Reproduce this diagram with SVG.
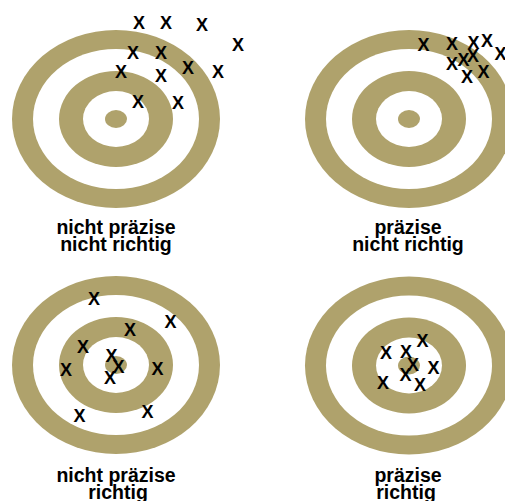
<svg xmlns="http://www.w3.org/2000/svg" width="505" height="501" viewBox="0 0 505 501">
<style>
.g{fill:#afa26c}
.w{fill:#ffffff}
.lbl{font-family:"Liberation Sans",Arial,sans-serif;font-weight:bold;font-size:19.5px;fill:#000;text-anchor:middle}
.x{font-family:"Liberation Sans",Arial,sans-serif;font-weight:bold;font-size:18px;fill:#000;text-anchor:middle}
</style>
<defs>
<g id="target">
<ellipse class="g" cx="0" cy="0" rx="104" ry="89"/>
<ellipse class="w" cx="0" cy="0" rx="83" ry="70"/>
<ellipse class="g" cx="0" cy="0" rx="57" ry="48"/>
<ellipse class="w" cx="0" cy="0" rx="33" ry="28"/>
<ellipse class="g" cx="0" cy="0" rx="11" ry="9"/>
</g>
</defs>
<rect width="505" height="501" fill="#ffffff"/>
<g id="target-tl">
<use href="#target" x="116" y="119"/>
<g class="marks">
<text class="x" x="139" y="28.5">X</text>
<text class="x" x="166" y="28.5">X</text>
<text class="x" x="202" y="30.5">X</text>
<text class="x" x="238" y="50.5">X</text>
<text class="x" x="133" y="58.5">X</text>
<text class="x" x="161" y="58.5">X</text>
<text class="x" x="121" y="78">X</text>
<text class="x" x="161" y="82">X</text>
<text class="x" x="188" y="74">X</text>
<text class="x" x="218" y="77.5">X</text>
<text class="x" x="138" y="107.5">X</text>
<text class="x" x="178" y="109">X</text>
</g>
<text class="lbl" x="116" y="234">nicht präzise</text>
<text class="lbl" x="116" y="251">nicht richtig</text>
</g>
<g id="target-tr">
<use href="#target" x="409" y="119"/>
<g class="marks">
<text class="x" x="423.5" y="50.5">X</text>
<text class="x" x="452" y="50">X</text>
<text class="x" x="473.5" y="48.5">X</text>
<text class="x" x="487" y="46.5">X</text>
<text class="x" x="500.5" y="59.5">X</text>
<text class="x" x="452" y="69.5">X</text>
<text class="x" x="463.5" y="66">X</text>
<text class="x" x="473" y="61.5">X</text>
<text class="x" x="467" y="82.5">X</text>
<text class="x" x="483.5" y="77.5">X</text>
</g>
<text class="lbl" x="408" y="234">präzise</text>
<text class="lbl" x="408" y="251">nicht richtig</text>
</g>
<g id="target-bl">
<use href="#target" x="116" y="365"/>
<g class="marks">
<text class="x" x="94" y="304.5">X</text>
<text class="x" x="170.5" y="328">X</text>
<text class="x" x="130" y="335.5">X</text>
<text class="x" x="83" y="352.5">X</text>
<text class="x" x="111.5" y="361.5">X</text>
<text class="x" x="118.5" y="373">X</text>
<text class="x" x="110" y="384">X</text>
<text class="x" x="66" y="376">X</text>
<text class="x" x="157.5" y="375">X</text>
<text class="x" x="79.5" y="421.5">X</text>
<text class="x" x="147.5" y="418">X</text>
</g>
<text class="lbl" x="116" y="482">nicht präzise</text>
<text class="lbl" x="118" y="498.5">richtig</text>
</g>
<g id="target-br">
<use href="#target" x="409" y="365.5"/>
<g class="marks">
<text class="x" x="422.5" y="346.5">X</text>
<text class="x" x="386" y="358.5">X</text>
<text class="x" x="406" y="358">X</text>
<text class="x" x="413" y="370.5">X</text>
<text class="x" x="433.5" y="374">X</text>
<text class="x" x="405.5" y="381">X</text>
<text class="x" x="383" y="389">X</text>
<text class="x" x="420" y="391">X</text>
</g>
<text class="lbl" x="408" y="482">präzise</text>
<text class="lbl" x="406" y="498.5">richtig</text>
</g>
</svg>
